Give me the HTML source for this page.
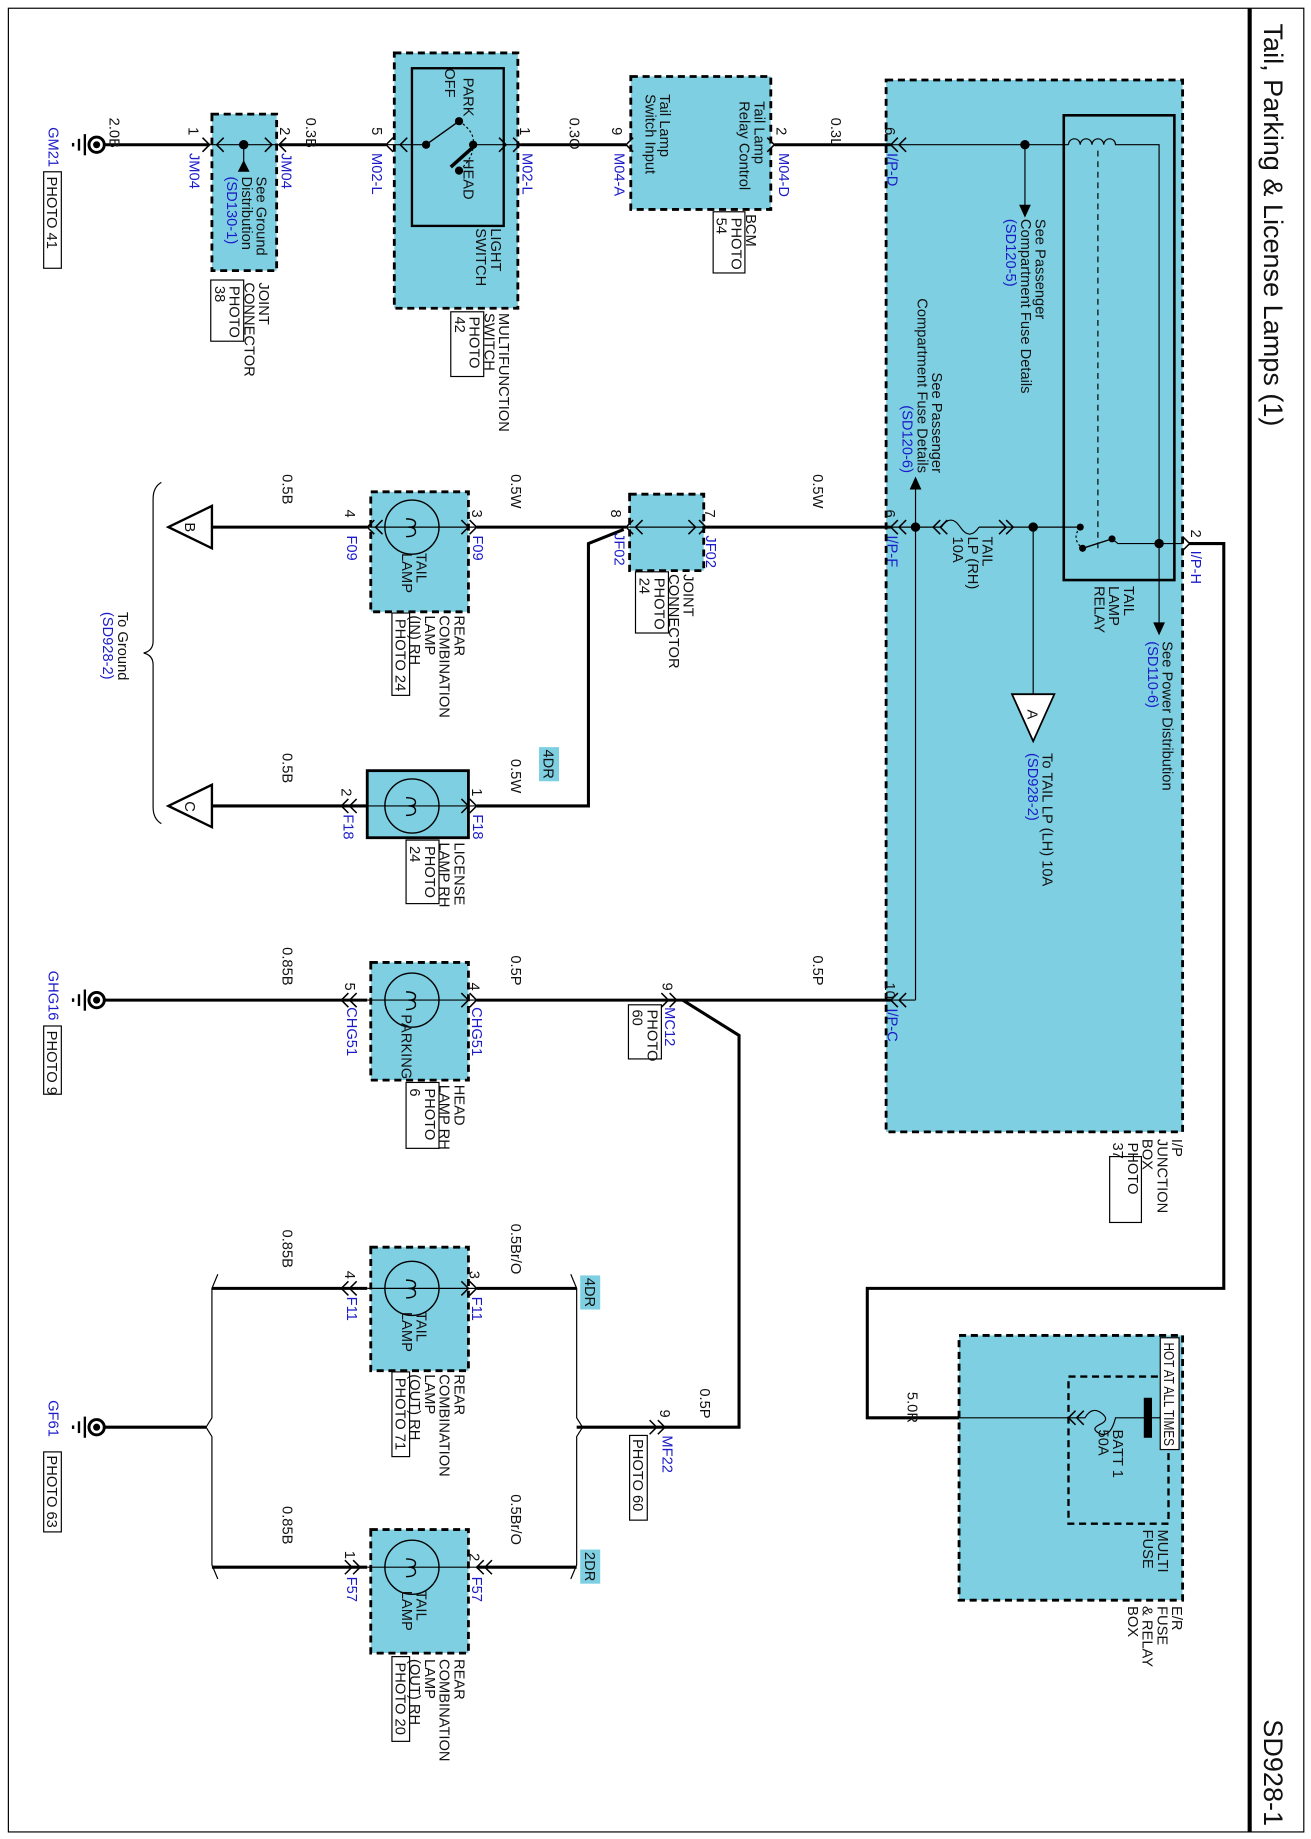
<!DOCTYPE html>
<html><head><meta charset="utf-8"><style>
html,body{margin:0;padding:0;background:#fff}
svg{display:block}
text{font-family:"Liberation Sans",Arial,sans-serif;font-size:12.5px;fill:#111}
.b{fill:#1b1bc8}
.t{font-size:23px}
.bx{fill:#7ECFE2;stroke:#000;stroke-width:2.4;stroke-dasharray:6,4}
.w{stroke:#000;stroke-width:2.6;fill:none}
.n{stroke:#000;stroke-width:1;fill:none}
.c{stroke:#000;stroke-width:1.2;fill:none}
.pb{fill:#fff;stroke:#000;stroke-width:1}
</style></head><body>
<svg width="1311" height="1839" viewBox="0 0 1114 1563" xmlns="http://www.w3.org/2000/svg">
<rect x="0" y="0" width="1114" height="1563" fill="#fff"/>
<rect x="7" y="7" width="1101" height="1550" fill="none" stroke="#000" stroke-width="1"/>
<line x1="1062" y1="7" x2="1062" y2="1557" stroke="#000" stroke-width="3.5"/>
<text class="t" transform="translate(1074,20) rotate(90)">Tail, Parking &amp; License Lamps (1)</text>
<text class="t" text-anchor="end" transform="translate(1074,1552) rotate(90)">SD928-1</text>

<!-- boxes -->
<rect class="bx" x="753" y="68" width="252" height="894"/>
<rect class="bx" x="180" y="97" width="55" height="133"/>
<rect class="bx" x="335" y="45" width="105" height="217"/>
<rect class="bx" x="536" y="65" width="119" height="113"/>
<rect class="bx" x="535" y="420" width="63" height="65"/>
<rect class="bx" x="315" y="418" width="83" height="102"/>
<rect x="312" y="655" width="86" height="57" fill="#7ECFE2" stroke="#000" stroke-width="2.4"/>
<rect class="bx" x="315" y="818" width="83" height="100"/>
<rect class="bx" x="315" y="1060" width="83" height="105"/>
<rect class="bx" x="315" y="1300" width="83" height="105"/>
<rect class="bx" x="815" y="1135" width="190" height="225"/>
<rect x="908" y="1170" width="85" height="125" fill="none" stroke="#000" stroke-width="2" stroke-dasharray="6,4"/>

<!-- Row 1 -->
<line class="w" x1="89" y1="123" x2="178" y2="123"/>
<line class="w" x1="237" y1="123" x2="328" y2="123"/>
<line class="w" x1="442" y1="123" x2="532" y2="123"/>
<line class="w" x1="658" y1="123" x2="757" y2="123"/>
<line class="n" x1="178" y1="123" x2="237" y2="123"/>
<line class="n" x1="328" y1="123" x2="362" y2="123"/>
<line class="n" x1="402" y1="123" x2="442" y2="123"/>
<line class="n" x1="757" y1="123" x2="908" y2="123"/>
<circle cx="207" cy="123" r="4"/>
<line class="n" x1="207" y1="123" x2="207" y2="138"/>
<polygon points="207,136 202,146 212,146"/>
<rect x="350" y="58" width="78" height="134" fill="none" stroke="#000" stroke-width="2"/>
<circle cx="362" cy="123" r="3.5"/><circle cx="390" cy="103" r="3.5"/><circle cx="390" cy="145" r="3.5"/><circle cx="402" cy="123" r="3.5"/>
<line class="c" x1="362" y1="123" x2="390" y2="103"/>
<line x1="383" y1="142" x2="402" y2="125" stroke="#000" stroke-width="3"/>
<path d="M390,103 Q404,112 402,123 Q402,135 390,145" fill="none" stroke="#000" stroke-width="1" stroke-dasharray="2,2"/>
<!-- coil & relay -->
<circle cx="871" cy="123" r="4"/>
<line class="n" x1="871" y1="123" x2="871" y2="175"/>
<polygon points="871,185 866,174 876,174"/>
<rect x="904" y="98" width="94" height="395" fill="none" stroke="#000" stroke-width="2.2"/>
<path d="M908,123 a5,5 0 0 1 10,0 a5,5 0 0 1 10,0 a5,5 0 0 1 10,0 a5,5 0 0 1 10,0 L985,123 L985,462" class="n"/>
<line x1="933" y1="128" x2="933" y2="470" stroke="#000" stroke-width="1" stroke-dasharray="5,4"/>
<circle cx="918" cy="448" r="3"/><circle cx="920" cy="466" r="3"/><circle cx="945" cy="458" r="3"/>
<line class="c" x1="920" y1="466" x2="945" y2="458"/>
<path d="M918,448 Q910,458 920,466" fill="none" stroke="#000" stroke-width="1" stroke-dasharray="2,2"/>
<polyline class="n" points="945,458 950,462 1005,462"/>
<circle cx="985" cy="462" r="4"/>
<line class="n" x1="985" y1="462" x2="985" y2="530"/>
<polygon points="985,540 980,529 990,529"/>
<!-- I/P-H wire to fuse box -->
<polyline class="w" points="1010,462 1040,462 1040,1095 737,1095 737,1205 815,1205"/>
<line class="n" x1="815" y1="1205" x2="908" y2="1205"/>
<path class="n" d="M908,1205 L922,1205 q6,-10 14,-4 q8,6 -2,10 q-8,4 2,8 q8,2 12,-14 L975,1205"/>
<rect x="972" y="1188" width="7" height="34" fill="#000"/>
<line class="n" x1="979" y1="1205" x2="986" y2="1205"/>
<circle cx="993" cy="1205" r="7" fill="#fff" stroke="#000" stroke-width="1"/>

<!-- Row 2 -->
<line class="w" x1="600" y1="448" x2="757" y2="448"/>
<line class="n" x1="532" y1="448" x2="600" y2="448"/>
<line class="w" x1="405" y1="448" x2="532" y2="448"/>
<line class="n" x1="312" y1="448" x2="405" y2="448"/>
<line class="w" x1="180" y1="448" x2="312" y2="448"/>
<polygon points="143,448 180,430 180,466" fill="#fff" stroke="#000" stroke-width="2"/>
<text transform="translate(157,444) rotate(90)">B</text>
<line class="n" x1="757" y1="448" x2="800" y2="448"/>
<path class="n" d="M800,448 q8,-12 16,0 q8,12 16,0"/>
<line class="n" x1="832" y1="448" x2="918" y2="448"/>
<circle cx="778" cy="448" r="4"/><circle cx="878" cy="448" r="4"/>
<line class="n" x1="778" y1="448" x2="778" y2="415"/>
<polygon points="778,405 773,416 783,416"/>
<line class="n" x1="778" y1="448" x2="778" y2="850"/>
<line class="n" x1="878" y1="448" x2="878" y2="590"/>
<polygon points="860,590 896,590 878,630" fill="#fff" stroke="#000" stroke-width="1.5"/>
<text transform="translate(873,603) rotate(90)">A</text>
<polyline class="w" points="530,450 500,462 500,685 405,685"/>
<line class="n" x1="312" y1="685" x2="405" y2="685"/>
<line class="w" x1="180" y1="685" x2="312" y2="685"/>
<polygon points="143,685 180,667 180,703" fill="#fff" stroke="#000" stroke-width="2"/>
<text transform="translate(157,681) rotate(90)">C</text>
<path d="M137,410 q-7,4 -7,14 L130,545 q0,8 -8,10 q8,2 8,10 L130,686 q0,10 7,14" fill="none" stroke="#000" stroke-width="1"/>

<!-- Row 3 -->
<line class="n" x1="757" y1="850" x2="778" y2="850"/>
<line class="w" x1="405" y1="850" x2="757" y2="850"/>
<line class="n" x1="312" y1="850" x2="405" y2="850"/>
<line class="w" x1="89" y1="850" x2="312" y2="850"/>
<polyline class="w" points="580,850 628,880 628,1213 565,1213"/>
<!-- Rows 4,5 -->
<line class="w" x1="490" y1="1213" x2="565" y2="1213"/>
<path d="M485,1083 l5,12 L490,1205 l5,8 l-5,8 L490,1330 l-5,12" fill="none" stroke="#000" stroke-width="1"/>
<path d="M185,1083 l-5,12 L180,1205 l-5,8 l5,8 L180,1330 l5,12" fill="none" stroke="#000" stroke-width="1"/>
<line class="w" x1="405" y1="1095" x2="490" y2="1095"/>
<line class="n" x1="312" y1="1095" x2="405" y2="1095"/>
<line class="w" x1="180" y1="1095" x2="312" y2="1095"/>
<line class="w" x1="405" y1="1332" x2="490" y2="1332"/>
<line class="n" x1="312" y1="1332" x2="405" y2="1332"/>
<line class="w" x1="180" y1="1332" x2="312" y2="1332"/>
<line class="w" x1="89" y1="1213" x2="175" y2="1213"/>

<!-- lamps -->
<g fill="none" stroke="#000" stroke-width="1.2">
<circle cx="350" cy="448" r="23"/><circle cx="350" cy="685" r="23"/><circle cx="350" cy="850" r="23"/><circle cx="350" cy="1095" r="23"/><circle cx="350" cy="1332" r="23"/>
<path d="M345,441 q8,0 8,4 q0,3 -6,3 q6,0 6,4 q0,4 -8,4"/>
<path d="M345,678 q8,0 8,4 q0,3 -6,3 q6,0 6,4 q0,4 -8,4"/>
<path d="M345,843 q8,0 8,4 q0,3 -6,3 q6,0 6,4 q0,4 -8,4"/>
<path d="M345,1088 q8,0 8,4 q0,3 -6,3 q6,0 6,4 q0,4 -8,4"/>
<path d="M345,1325 q8,0 8,4 q0,3 -6,3 q6,0 6,4 q0,4 -8,4"/>
</g>

<!-- grounds -->
<g>
<circle cx="82" cy="123" r="6.5" fill="#fff" stroke="#000" stroke-width="2.5"/><circle cx="82" cy="123" r="3"/>
<line x1="72" y1="114" x2="72" y2="132" stroke="#000" stroke-width="2"/><line x1="67" y1="118" x2="67" y2="128" stroke="#000" stroke-width="2"/><line x1="62" y1="121.5" x2="62" y2="124.5" stroke="#000" stroke-width="2"/>
<circle cx="82" cy="850" r="6.5" fill="#fff" stroke="#000" stroke-width="2.5"/><circle cx="82" cy="850" r="3"/>
<line x1="72" y1="841" x2="72" y2="859" stroke="#000" stroke-width="2"/><line x1="67" y1="845" x2="67" y2="855" stroke="#000" stroke-width="2"/><line x1="62" y1="848.5" x2="62" y2="851.5" stroke="#000" stroke-width="2"/>
<circle cx="82" cy="1213" r="6.5" fill="#fff" stroke="#000" stroke-width="2.5"/><circle cx="82" cy="1213" r="3"/>
<line x1="72" y1="1204" x2="72" y2="1222" stroke="#000" stroke-width="2"/><line x1="67" y1="1208" x2="67" y2="1218" stroke="#000" stroke-width="2"/><line x1="62" y1="1211.5" x2="62" y2="1214.5" stroke="#000" stroke-width="2"/>
</g>

<!-- connectors -->
<g fill="none" stroke="#000" stroke-width="1.3">
<path d="M172,117 L178,123 L172,129 M190,117 L184,123 L190,129"/>
<path d="M243,117 L237,123 L243,129 M225,117 L231,123 L225,129"/>
<path d="M334,117 L328,123 L334,129 M346,117 L340,123 L346,129"/>
<path d="M436,117 L442,123 L436,129 M424,117 L430,123 L424,129"/>
<path d="M538,117 L532,123 L538,129"/>
<path d="M652,117 L658,123 L652,129"/>
<path d="M763,117 L757,123 L763,129 M770,117 L764,123 L770,129"/>
<path d="M763,442 L757,448 L763,454 M770,442 L764,448 L770,454"/>
<path d="M594,442 L600,448 L594,454 M585,442 L591,448 L585,454"/>
<path d="M538,442 L532,448 L538,454 M546,442 L540,448 L546,454"/>
<path d="M399,442 L405,448 L399,454 M392,442 L398,448 L392,454"/>
<path d="M318,442 L312,448 L318,454 M325,442 L319,448 L325,454"/>
<path d="M399,679 L405,685 L399,691 M392,679 L398,685 L392,691"/>
<path d="M296,679 L290,685 L296,691 M303,679 L297,685 L303,691"/>
<path d="M763,844 L757,850 L763,856 M770,844 L764,850 L770,856"/>
<path d="M569,844 L575,850 L569,856 M562,844 L568,850 L562,856"/>
<path d="M399,844 L405,850 L399,856 M392,844 L398,850 L392,856"/>
<path d="M296,844 L290,850 L296,856 M303,844 L297,850 L303,856"/>
<path d="M559,1207 L565,1213 L559,1219 M552,1207 L558,1213 L552,1219"/>
<path d="M399,1089 L405,1095 L399,1101 M392,1089 L398,1095 L392,1101"/>
<path d="M296,1089 L290,1095 L296,1101 M303,1089 L297,1095 L303,1101"/>
<path d="M411,1326 L405,1332 L411,1338 M418,1326 L412,1332 L418,1338"/>
<path d="M300,1326 L306,1332 L300,1338 M293,1326 L299,1332 L293,1338"/>
<path d="M914,1199 L908,1205 L914,1211 M921,1199 L915,1205 L921,1211"/>
<path d="M799,442 L793,448 L799,454 M805,442 L799,448 L805,454 M855,442 L861,448 L855,454 M849,442 L855,448 L849,454"/>
<path d="M1005,456 L1011,462 L1005,468"/>
</g>

<!-- tags -->
<rect x="458" y="635" width="17" height="29" fill="#7ECFE2"/>
<rect x="493" y="1084" width="17" height="29" fill="#7ECFE2"/>
<rect x="493" y="1317" width="17" height="29" fill="#7ECFE2"/>
<text transform="translate(462,637) rotate(90)">4DR</text>
<text transform="translate(497,1086) rotate(90)">4DR</text>
<text transform="translate(497,1319) rotate(90)">2DR</text>

<!-- photo boxes -->
<rect class="pb" x="37" y="146" width="15" height="82"/>
<rect class="pb" x="37" y="872" width="15" height="58"/>
<rect class="pb" x="37" y="1234" width="15" height="68"/>
<rect class="pb" x="179" y="238" width="28" height="52"/>
<rect class="pb" x="383" y="265" width="28" height="55"/>
<rect class="pb" x="606" y="180" width="27" height="52"/>
<rect class="pb" x="540" y="486" width="28" height="52"/>
<rect class="pb" x="333" y="521" width="15" height="70"/>
<rect class="pb" x="345" y="714" width="28" height="54"/>
<rect class="pb" x="534" y="854" width="28" height="46"/>
<rect class="pb" x="345" y="920" width="28" height="56"/>
<rect class="pb" x="535" y="1220" width="15" height="72"/>
<rect class="pb" x="333" y="1166" width="15" height="72"/>
<rect class="pb" x="333" y="1408" width="15" height="72"/>
<rect class="pb" x="943" y="983" width="27" height="56"/>
<rect class="pb" x="986" y="1137" width="16" height="95"/>

<!-- rotated labels -->
<g>
<text transform="translate(40,150) rotate(90)">PHOTO 41</text>
<text class="b" transform="translate(41,108) rotate(90)">GM21</text>
<text transform="translate(93,100) rotate(90)">2.0B</text>
<text transform="translate(160,108) rotate(90)">1</text>
<text class="b" transform="translate(161,130) rotate(90)">JM04</text>
<text transform="translate(218,150) rotate(90)">See Ground<tspan x="0" dy="12.5">Distribution</tspan><tspan x="0" dy="12.5" class="b">(SD130-1)</tspan></text>
<text transform="translate(220,240) rotate(90)">JOINT<tspan x="0" dy="12.5">CONNECTOR</tspan><tspan x="3" dy="12.5">PHOTO</tspan><tspan x="3" dy="12.5">38</tspan></text>
<text transform="translate(238,108) rotate(90)">2</text>
<text class="b" transform="translate(239,130) rotate(90)">JM04</text>
<text transform="translate(260,100) rotate(90)">0.3B</text>
<text transform="translate(316,108) rotate(90)">5</text>
<text class="b" transform="translate(316,130) rotate(90)">M02-L</text>
<text transform="translate(394,66) rotate(90)">PARK</text>
<text transform="translate(378,58) rotate(90)">OFF</text>
<text transform="translate(394,135) rotate(90)">HEAD</text>
<text transform="translate(417,194) rotate(90)">LIGHT<tspan x="0" dy="12.5">SWITCH</tspan></text>
<text transform="translate(424,266) rotate(90)">MULTIFUNCTION<tspan x="0" dy="12.5">SWITCH</tspan><tspan x="3" dy="12.5">PHOTO</tspan><tspan x="3" dy="12.5">42</tspan></text>
<text transform="translate(442,108) rotate(90)">1</text>
<text class="b" transform="translate(444,130) rotate(90)">M02-L</text>
<text transform="translate(484,100) rotate(90)">0.3O</text>
<text transform="translate(520,108) rotate(90)">9</text>
<text class="b" transform="translate(522,130) rotate(90)">M04-A</text>
<text transform="translate(561,80) rotate(90)">Tail Lamp<tspan x="0" dy="12.5">Switch Input</tspan></text>
<text transform="translate(641,86) rotate(90)">Tail Lamp<tspan x="0" dy="12.5">Relay Control</tspan></text>
<text transform="translate(634,182) rotate(90)">BCM<tspan x="3" dy="12.5">PHOTO</tspan><tspan x="3" dy="12.5">54</tspan></text>
<text transform="translate(660,108) rotate(90)">2</text>
<text class="b" transform="translate(662,130) rotate(90)">M04-D</text>
<text transform="translate(706,100) rotate(90)">0.3L</text>
<text transform="translate(752,108) rotate(90)">6</text>
<text class="b" transform="translate(754,130) rotate(90)">I/P-D</text>
<text transform="translate(880,186) rotate(90)">See Passenger<tspan x="0" dy="12.5">Compartment Fuse Details</tspan><tspan x="0" dy="12.5" class="b">(SD120-5)</tspan></text>
<text text-anchor="end" transform="translate(792,402) rotate(90)">See Passenger<tspan x="0" dy="12.5">Compartment Fuse Details</tspan><tspan x="0" dy="12.5" class="b">(SD120-6)</tspan></text>
<text transform="translate(955,498) rotate(90)">TAIL<tspan x="0" dy="12.5">LAMP</tspan><tspan x="0" dy="12.5">RELAY</tspan></text>
<text transform="translate(988,545) rotate(90)">See Power Distribution<tspan x="0" dy="12.5" class="b">(SD110-6)</tspan></text>
<text transform="translate(1012,450) rotate(90)">2</text>
<text class="b" transform="translate(1012,468) rotate(90)">I/P-H</text>
<text transform="translate(835,456) rotate(90)">TAIL<tspan x="0" dy="12.5">LP (RH)</tspan><tspan x="0" dy="12.5">10A</tspan></text>
<text transform="translate(886,640) rotate(90)">To TAIL LP (LH) 10A<tspan x="0" dy="12.5" class="b">(SD928-2)</tspan></text>
<text transform="translate(752,433) rotate(90)">6</text>
<text class="b" transform="translate(754,455) rotate(90)">I/P-F</text>
<text transform="translate(691,403) rotate(90)">0.5W</text>
<text transform="translate(599,433) rotate(90)">7</text>
<text class="b" transform="translate(600,455) rotate(90)">JF02</text>
<text transform="translate(519,433) rotate(90)">8</text>
<text class="b" transform="translate(522,453) rotate(90)">JF02</text>
<text transform="translate(581,488) rotate(90)">JOINT<tspan x="0" dy="12.5">CONNECTOR</tspan><tspan x="3" dy="12.5">PHOTO</tspan><tspan x="3" dy="12.5">24</tspan></text>
<text transform="translate(434,403) rotate(90)">0.5W</text>
<text transform="translate(401,433) rotate(90)">3</text>
<text class="b" transform="translate(402,455) rotate(90)">F09</text>
<text transform="translate(354,470) rotate(90)">TAIL<tspan x="0" dy="12.5">LAMP</tspan></text>
<text transform="translate(293,433) rotate(90)">4</text>
<text class="b" transform="translate(295,455) rotate(90)">F09</text>
<text transform="translate(240,403) rotate(90)">0.5B</text>
<text transform="translate(386,523) rotate(90)">REAR<tspan x="0" dy="12.5">COMBINATION</tspan><tspan x="0" dy="12.5">LAMP</tspan><tspan x="0" dy="12.5">(IN) RH</tspan><tspan x="3" dy="12.5">PHOTO 24</tspan></text>
<text transform="translate(434,645) rotate(90)">0.5W</text>
<text transform="translate(401,670) rotate(90)">1</text>
<text class="b" transform="translate(402,692) rotate(90)">F18</text>
<text transform="translate(290,670) rotate(90)">2</text>
<text class="b" transform="translate(292,692) rotate(90)">F18</text>
<text transform="translate(240,640) rotate(90)">0.5B</text>
<text transform="translate(386,716) rotate(90)">LICENSE<tspan x="0" dy="12.5">LAMP RH</tspan><tspan x="3" dy="12.5">PHOTO</tspan><tspan x="3" dy="12.5">24</tspan></text>
<text transform="translate(100,520) rotate(90)">To Ground<tspan x="0" dy="12.5" class="b">(SD928-2)</tspan></text>
<text transform="translate(752,835) rotate(90)">10</text>
<text class="b" transform="translate(754,857) rotate(90)">I/P-C</text>
<text transform="translate(691,812) rotate(90)">0.5P</text>
<text transform="translate(563,835) rotate(90)">9</text>
<text class="b" transform="translate(565,856) rotate(90)">MC12</text>
<text transform="translate(550,858) rotate(90)">PHOTO<tspan x="0" dy="12.5">60</tspan></text>
<text transform="translate(434,812) rotate(90)">0.5P</text>
<text transform="translate(399,835) rotate(90)">4</text>
<text class="b" transform="translate(401,856) rotate(90)">CHG51</text>
<text transform="translate(341,862) rotate(90)">PARKING</text>
<text transform="translate(293,835) rotate(90)">5</text>
<text class="b" transform="translate(295,856) rotate(90)">CHG51</text>
<text transform="translate(240,805) rotate(90)">0.85B</text>
<text class="b" transform="translate(41,825) rotate(90)">GHG16</text>
<text transform="translate(40,876) rotate(90)">PHOTO 9</text>
<text transform="translate(386,922) rotate(90)">HEAD<tspan x="0" dy="12.5">LAMP RH</tspan><tspan x="3" dy="12.5">PHOTO</tspan><tspan x="3" dy="12.5">6</tspan></text>
<text transform="translate(434,1040) rotate(90)">0.5Br/O</text>
<text transform="translate(399,1080) rotate(90)">3</text>
<text class="b" transform="translate(401,1102) rotate(90)">F11</text>
<text transform="translate(354,1115) rotate(90)">TAIL<tspan x="0" dy="12.5">LAMP</tspan></text>
<text transform="translate(293,1080) rotate(90)">4</text>
<text class="b" transform="translate(295,1102) rotate(90)">F11</text>
<text transform="translate(240,1045) rotate(90)">0.85B</text>
<text transform="translate(386,1168) rotate(90)">REAR<tspan x="0" dy="12.5">COMBINATION</tspan><tspan x="0" dy="12.5">LAMP</tspan><tspan x="0" dy="12.5">(OUT) RH</tspan><tspan x="3" dy="12.5">PHOTO 71</tspan></text>
<text transform="translate(595,1180) rotate(90)">0.5P</text>
<text transform="translate(561,1198) rotate(90)">9</text>
<text class="b" transform="translate(563,1220) rotate(90)">MF22</text>
<text transform="translate(538,1223) rotate(90)">PHOTO 60</text>
<text transform="translate(434,1270) rotate(90)">0.5Br/O</text>
<text transform="translate(399,1320) rotate(90)">2</text>
<text class="b" transform="translate(401,1340) rotate(90)">F57</text>
<text transform="translate(354,1352) rotate(90)">TAIL<tspan x="0" dy="12.5">LAMP</tspan></text>
<text transform="translate(293,1318) rotate(90)">1</text>
<text class="b" transform="translate(295,1340) rotate(90)">F57</text>
<text transform="translate(240,1280) rotate(90)">0.85B</text>
<text transform="translate(386,1410) rotate(90)">REAR<tspan x="0" dy="12.5">COMBINATION</tspan><tspan x="0" dy="12.5">LAMP</tspan><tspan x="0" dy="12.5">(OUT) RH</tspan><tspan x="3" dy="12.5">PHOTO 20</tspan></text>
<text class="b" transform="translate(41,1190) rotate(90)">GF61</text>
<text transform="translate(40,1237) rotate(90)">PHOTO 63</text>
<text textLength="88" lengthAdjust="spacingAndGlyphs" transform="translate(989,1141) rotate(90)">HOT AT ALL TIMES</text>
<text transform="translate(946,1215) rotate(90)">BATT 1<tspan x="0" dy="12.5">50A</tspan></text>
<text transform="translate(984,1300) rotate(90)">MULTI<tspan x="0" dy="12.5">FUSE</tspan></text>
<text transform="translate(996,1365) rotate(90)">E/R<tspan x="0" dy="12.5">FUSE</tspan><tspan x="0" dy="12.5">&amp; RELAY</tspan><tspan x="0" dy="12.5">BOX</tspan></text>
<text transform="translate(771,1183) rotate(90)">5.0R</text>
<text transform="translate(996,968) rotate(90)">I/P<tspan x="0" dy="12.5">JUNCTION</tspan><tspan x="0" dy="12.5">BOX</tspan><tspan x="3" dy="12.5">PHOTO</tspan><tspan x="3" dy="12.5">37</tspan></text>
</g>
</svg>
</body></html>
